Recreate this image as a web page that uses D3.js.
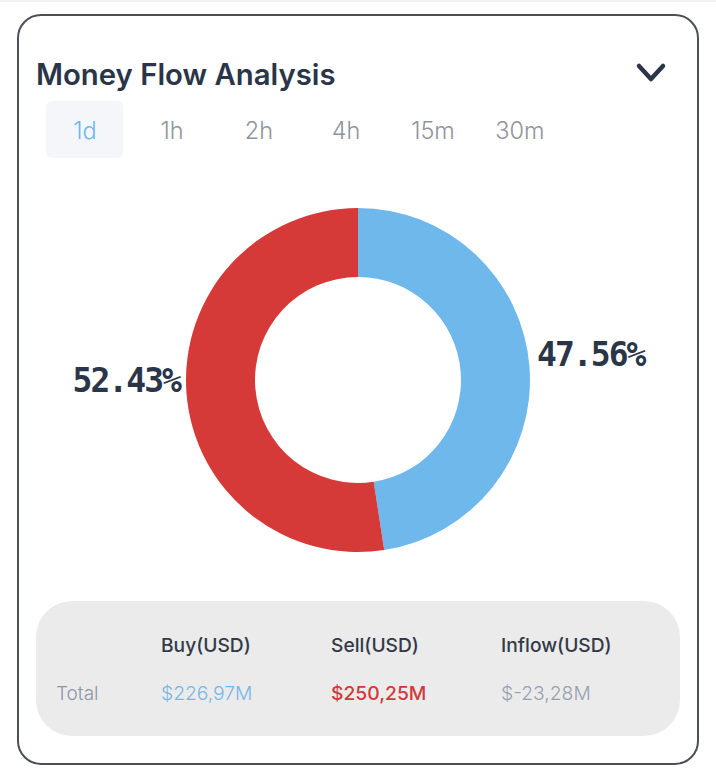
<!DOCTYPE html>
<html>
<head>
<meta charset="utf-8">
<script src="https://cdn.jsdelivr.net/npm/d3@7"></script>
<style>
  html, body { margin: 0; padding: 0; background: #fff; }
  svg { display: block; }
  text { font-family: Inter, "Noto Sans", sans-serif; }
</style>
</head>
<body>
<div id="chart"></div>
<script>
const title = "Money Flow Analysis"
const tabs = ["1d", "1h", "2h", "4h", "15m", "30m"]
const sliceNames = ["Buy", "Sell"]
const sliceValues = [47.56, 52.43]
const sliceColors = ["#6fb8ec", "#d63a38"]
const tableHeaders = ["Buy(USD)", "Sell(USD)", "Inflow(USD)"]
const rowLabel = "Total"
const rowValues = ["$226,97M", "$250,25M", "$-23,28M"]
const rowColors = ["#75b7e6", "#cf3a3a", "#98a1b1"]

const dark = "#2b3548"
const svg = d3.select("#chart").append("svg").attr("width", 716).attr("height", 780)

// card
svg.append("rect").attr("x", 0).attr("y", 0).attr("width", 716).attr("height", 2).attr("fill", "#f2f2f2")
svg.append("rect")
  .attr("x", 18).attr("y", 15).attr("width", 680).attr("height", 749).attr("rx", 23)
  .attr("fill", "#fff").attr("stroke", "#4b5058").attr("stroke-width", 2)

// header
svg.append("text").attr("x", 36).attr("y", 85)
  .attr("font-size", 29.3).attr("font-weight", 600).attr("fill", dark).text(title)
svg.append("path").attr("d", "M639,66L651,79L663,66")
  .attr("fill", "none").attr("stroke", dark).attr("stroke-width", 4.5)
  .attr("stroke-linecap", "round").attr("stroke-linejoin", "round")

// tabs
const tabX = d3.scalePoint().domain(tabs).range([85, 520])
svg.append("rect").attr("x", 46).attr("y", 101).attr("width", 77).attr("height", 57).attr("rx", 6).attr("fill", "#f4f6fa")
svg.selectAll("text.tab").data(tabs).join("text")
  .attr("class", "tab")
  .attr("x", d => tabX(d)).attr("y", 139)
  .attr("text-anchor", "middle")
  .attr("font-size", 23.5).attr("font-weight", 300)
  .attr("fill", (d, i) => i == 0 ? sliceColors[0] : "#8f949c")
  .text(d => d)

// donut
const cx = 358, cy = 380, outerR = 172, innerR = 103
const pie = d3.pie().sort(null).value(d => d)
const arc = d3.arc().innerRadius(innerR).outerRadius(outerR)
const slices = pie(sliceValues)
const donut = svg.append("g").attr("transform", `translate(${cx},${cy})`)
donut.selectAll("path").data(slices).join("path")
  .attr("d", arc)
  .attr("fill", (d, i) => sliceColors[i])

// labels sit just outside the ring, at the height of the slice middle
const labelR = d3.arc().innerRadius(outerR).outerRadius(outerR)
donut.selectAll("text").data(slices).join("text")
  .attr("x", (d, i) => i == 0 ? outerR + 7 : -outerR - 6)
  .attr("y", d => labelR.centroid(d)[1] - 1)
  .attr("text-anchor", (d, i) => i == 0 ? "start" : "end")
  .attr("font-size", 33).attr("font-weight", 700)
  .attr("letter-spacing", -1.95)
  .attr("fill", dark)
  .style("font-family", "'DejaVu Sans Mono', monospace")
  .text(d => d.value + "%")

// summary table
svg.append("rect").attr("x", 36).attr("y", 601).attr("width", 644).attr("height", 135).attr("rx", 36).attr("fill", "#ebebeb")
const colX = d3.scalePoint().domain(tableHeaders).range([161, 501])
svg.selectAll("text.head").data(tableHeaders).join("text")
  .attr("class", "head")
  .attr("x", d => colX(d)).attr("y", 652)
  .attr("font-size", 19.2).attr("font-weight", 500).attr("fill", "#323a48")
  .text(d => d)
svg.append("text").attr("x", 56).attr("y", 700)
  .attr("font-size", 19).attr("font-weight", 300).attr("fill", "#8d96a6").text(rowLabel)
svg.selectAll("text.val").data(rowValues).join("text")
  .attr("class", "val")
  .attr("x", (d, i) => colX(tableHeaders[i])).attr("y", 700)
  .attr("font-size", 19.3)
  .attr("font-weight", (d, i) => i == 1 ? 500 : 300)
  .attr("fill", (d, i) => rowColors[i])
  .text(d => d)
</script>
</body>
</html>
